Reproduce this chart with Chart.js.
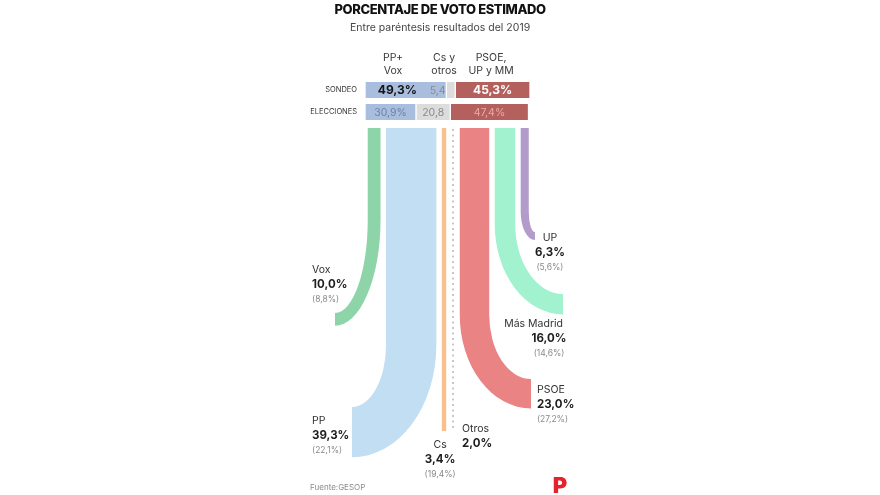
<!DOCTYPE html>
<html><head><meta charset="utf-8">
<script src="https://cdn.jsdelivr.net/npm/chart.js@4.4.1/dist/chart.umd.min.js"></script>
<style>html,body{margin:0;padding:0;background:#fff;}canvas{display:block;}</style>
</head><body>
<canvas id="c" width="880" height="495"></canvas>
<script>
// ---------- DATA ----------
const title = 'PORCENTAJE DE VOTO ESTIMADO';
const subtitle = 'Entre paréntesis resultados del 2019';
const rowLabels = ['SONDEO', 'ELECCIONES'];
const groupLabels = [['PP+', 'Vox'], ['Cs y', 'otros'], ['PSOE,', 'UP y MM']];
const sondeo = [49.3, 5.4, 45.3];
const elecciones = [30.9, 20.8, 47.4];
const parties = ['Vox', 'PP', 'Cs', 'Otros', 'PSOE', 'Más Madrid', 'UP'];
const estimate = [10.0, 39.3, 3.4, 2.0, 23.0, 16.0, 6.3];
const result2019 = [8.8, 22.1, 19.4, null, 27.2, 14.6, 5.6];
const source = 'Fuente:GESOP';

// ---------- STYLE / LAYOUT ----------
const FONT = 'Inter, "Noto Sans", sans-serif';
const groupColors = ['#a9bedf', '#dcdcdc', '#b4615e'];
const partyColors = {
  'Vox': '#8ed4a9', 'PP': '#c2def3', 'Cs': '#f7c08e', 'Otros': '#c8c8c8',
  'PSOE': '#e98384', 'Más Madrid': '#a2f2d0', 'UP': '#b39bcb'
};
const ROW_Y = [90, 112];
const BAR_TEXT = [
  { colors: ['#151515', '#8a8a8a', '#ffffff'], bold: [true, false, true], shift: [-5, -8, 0] },
  { colors: ['#6f82a6', '#8a8a8a', '#eaa9a8'], bold: [false, false, false], shift: [0, 0, 0] }
];
const HEADER_X = [17.0, 47.9, 76.4];
const HEADER_Y = [58, 71];
const FLOW = { k: 0.776, gap: 3.33, center: 50.45, top: 128 };
const SHAPE = {
  'Vox': { side: 'left', endX: -18.2, bendY: 220, endY: 313 },
  'PP': { side: 'left', endX: -7.9, bendY: 345, endY: 407 },
  'Cs': { side: 'none', endY: 431 },
  'Otros': { side: 'dotted', endY: 431 },
  'PSOE': { side: 'right', endX: 100.6, bendY: 315, endY: 379 },
  'Más Madrid': { side: 'right', endX: 120.0, bendY: 224, endY: 294 },
  'UP': { side: 'right', endX: 103.0, bendY: 212, endY: 232 }
};
const LABEL = {
  'Vox': { x: -32.1, y: 270, align: 'left' },
  'PP': { x: -32.1, y: 421, align: 'left' },
  'Cs': { x: 45.5, y: 445, align: 'center' },
  'Otros': { x: 58.8, y: 429, align: 'left' },
  'PSOE': { x: 104.2, y: 390, align: 'left' },
  'Más Madrid': { x: 111.5, y: 324, align: 'center', nameX: 120.0, nameAlign: 'right' },
  'UP': { x: 112.1, y: 238, align: 'center' }
};

const fmt = v => v.toFixed(1).replace('.', ',');

function cumulative(vals) {
  let acc = 0;
  return vals.map(v => { const s = acc; acc += v; return [s, acc]; });
}
const sPairs = cumulative(sondeo);
const ePairs = cumulative(elecciones);

const datasets = groupLabels.map((g, i) => ({
  label: g.join(' '),
  data: [{ x: sPairs[i], y: ROW_Y[0] }, { x: ePairs[i], y: ROW_Y[1] }],
  backgroundColor: groupColors[i],
  borderColor: '#ffffff',
  borderWidth: { left: 1, right: 1, top: 0, bottom: 0 },
  borderSkipped: false,
  barThickness: 16,
  grouped: false
}));

const drawPlugin = {
  id: 'flowsAndText',
  afterDatasetsDraw(chart) {
    const { ctx } = chart;
    const xs = chart.scales.x, ys = chart.scales.y;
    const X = v => xs.getPixelForValue(v);
    const Y = v => ys.getPixelForValue(v);
    const text = (s, xu, yu, size, weight, color, align, ls) => {
      ctx.save();
      ctx.font = `${weight} ${size}px ${FONT}`;
      ctx.fillStyle = color;
      ctx.textAlign = align;
      ctx.textBaseline = 'middle';
      if (ls !== undefined) ctx.letterSpacing = ls;
      ctx.fillText(s, X(xu), Y(yu));
      ctx.restore();
    };

    // Title + subtitle
    text(title, 45.5, 10, 13, 800, '#111111', 'center', '-0.4px');
    text(subtitle, 45.5, 28, 10.5, 400, '#444444', 'center');

    // Column headers
    groupLabels.forEach((lines, i) => {
      lines.forEach((ln, j) => text(ln, HEADER_X[i], HEADER_Y[j], 10.5, 400, '#3a3a3a', 'center'));
    });

    // Row labels
    rowLabels.forEach((r, i) => text(r, -4.8, ROW_Y[i], 7.5, 400, '#333333', 'right'));

    // Bar values
    [sondeo, elecciones].forEach((vals, r) => {
      const pairs = r === 0 ? sPairs : ePairs;
      vals.forEach((v, i) => {
        const st = BAR_TEXT[r];
        const s = i === 1 ? fmt(v) : fmt(v) + '%';
        const cx = (pairs[i][0] + pairs[i][1]) / 2 + st.shift[i];
        text(s, cx, ROW_Y[r] + 0.5, st.bold[i] ? 12 : 10.5, st.bold[i] ? 700 : 400, st.colors[i], 'center');
      });
    });

    // Flows
    const widths = estimate.map(v => v * FLOW.k);
    const total = widths.reduce((a, b) => a + b, 0) + FLOW.gap * (widths.length - 1);
    let cur = FLOW.center - total / 2;
    const top = Y(FLOW.top);
    parties.forEach((p, i) => {
      const l = cur, r = cur + widths[i];
      cur = r + FLOW.gap;
      const xl = X(l), xr = X(r), w = xr - xl;
      const s = SHAPE[p];
      ctx.save();
      ctx.fillStyle = partyColors[p];
      if (s.side === 'dotted') {
        ctx.strokeStyle = partyColors[p];
        ctx.lineWidth = 2;
        ctx.setLineDash([2, 3.5]);
        ctx.beginPath();
        ctx.moveTo((xl + xr) / 2, top + 1);
        ctx.lineTo((xl + xr) / 2, Y(s.endY));
        ctx.stroke();
      } else if (s.side === 'none') {
        ctx.fillRect(xl, top, w, Y(s.endY) - top);
      } else {
        const ex = X(s.endX), by = Y(s.bendY), iy = Y(s.endY);
        const ryi = iy - by, ryo = ryi + w;
        ctx.beginPath();
        if (s.side === 'left') {
          ctx.moveTo(xl, top);
          ctx.lineTo(xl, by);
          ctx.ellipse(ex, by, xl - ex, ryi, 0, 0, Math.PI / 2, false);
          ctx.lineTo(ex, by + ryo);
          ctx.ellipse(ex, by, xr - ex, ryo, 0, Math.PI / 2, 0, true);
          ctx.lineTo(xr, top);
        } else {
          ctx.moveTo(xr, top);
          ctx.lineTo(xr, by);
          ctx.ellipse(ex, by, ex - xr, ryi, 0, Math.PI, Math.PI / 2, true);
          ctx.lineTo(ex, by + ryo);
          ctx.ellipse(ex, by, ex - xl, ryo, 0, Math.PI / 2, Math.PI, false);
          ctx.lineTo(xl, top);
        }
        ctx.closePath();
        ctx.fill();
      }
      ctx.restore();

      // Labels
      const L = LABEL[p];
      const nx = L.nameX !== undefined ? L.nameX : L.x;
      const na = L.nameAlign || L.align;
      text(p, nx, L.y, 10.5, 400, '#333333', na);
      text(fmt(estimate[i]) + '%', L.x, L.y + 14.5, 11.5, 700, '#1e1e1e', L.align);
      if (result2019[i] !== null) {
        text('(' + fmt(result2019[i]) + '%)', L.x, L.y + 29.5, 8.5, 400, '#8a8a8a', L.align);
      }
    });

    // Source + logo
    text(source, -33.3, 488, 8, 400, '#8a8a8a', 'left');
    text('P', 118.2, 486, 22, 900, '#e3242f', 'center');
  }
};

new Chart(document.getElementById('c'), {
  type: 'bar',
  data: { datasets },
  options: {
    indexAxis: 'y',
    responsive: false,
    animation: false,
    events: [],
    layout: { padding: 0 },
    plugins: { legend: { display: false }, tooltip: { enabled: false }, title: { display: false } },
    scales: {
      x: { type: 'linear', min: -221.2, max: 312.1, display: false, stacked: false },
      y: { type: 'linear', min: 0, max: 495, reverse: true, display: false, offset: false }
    }
  },
  plugins: [drawPlugin]
});
</script>
</body></html>
